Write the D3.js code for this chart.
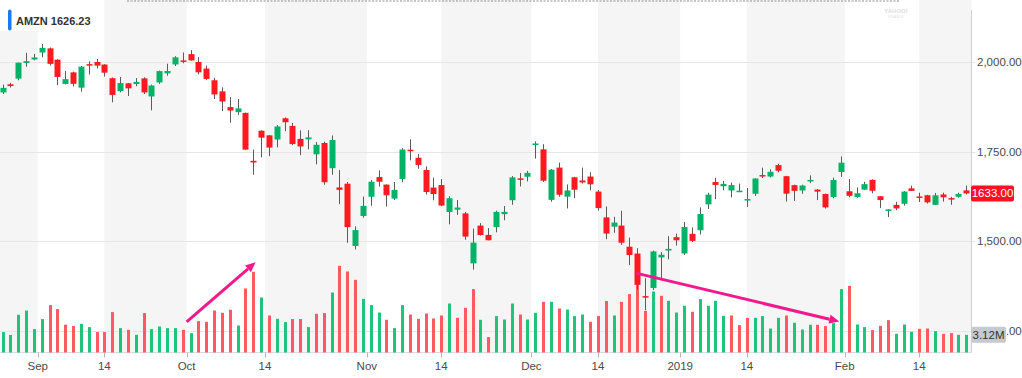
<!DOCTYPE html>
<html>
<head>
<meta charset="utf-8">
<script src="https://cdn.jsdelivr.net/npm/d3@7"></script>
<style>
  body { margin: 0; background: #fff; }
  svg { display: block; font-family: "Helvetica Neue", Helvetica, Arial, "Liberation Sans", sans-serif; }
</style>
</head>
<body>
<div class="stock-chart"></div>
<script>
// daily bars (trading days only)
var dates = [
  "2018-08-27","2018-08-28","2018-08-29","2018-08-30","2018-08-31",
  "2018-09-04","2018-09-05","2018-09-06","2018-09-07","2018-09-10","2018-09-11","2018-09-12","2018-09-13","2018-09-14",
  "2018-09-17","2018-09-18","2018-09-19","2018-09-20","2018-09-21","2018-09-24","2018-09-25","2018-09-26","2018-09-27","2018-09-28",
  "2018-10-01","2018-10-02","2018-10-03","2018-10-04","2018-10-05","2018-10-08","2018-10-09","2018-10-10","2018-10-11","2018-10-12",
  "2018-10-15","2018-10-16","2018-10-17","2018-10-18","2018-10-19","2018-10-22","2018-10-23","2018-10-24","2018-10-25","2018-10-26",
  "2018-10-29","2018-10-30","2018-10-31",
  "2018-11-01","2018-11-02","2018-11-05","2018-11-06","2018-11-07","2018-11-08","2018-11-09","2018-11-12","2018-11-13","2018-11-14",
  "2018-11-15","2018-11-16","2018-11-19","2018-11-20","2018-11-21","2018-11-23","2018-11-26","2018-11-27","2018-11-28","2018-11-29","2018-11-30",
  "2018-12-03","2018-12-04","2018-12-06","2018-12-07","2018-12-10","2018-12-11","2018-12-12","2018-12-13","2018-12-14",
  "2018-12-17","2018-12-18","2018-12-19","2018-12-20","2018-12-21","2018-12-24","2018-12-26","2018-12-27","2018-12-28","2018-12-31",
  "2019-01-02","2019-01-03","2019-01-04","2019-01-07","2019-01-08","2019-01-09","2019-01-10","2019-01-11","2019-01-14","2019-01-15",
  "2019-01-16","2019-01-17","2019-01-18","2019-01-22","2019-01-23","2019-01-24","2019-01-25","2019-01-28","2019-01-29","2019-01-30","2019-01-31",
  "2019-02-01","2019-02-04","2019-02-05","2019-02-06","2019-02-07","2019-02-08","2019-02-11","2019-02-12","2019-02-13","2019-02-14",
  "2019-02-15","2019-02-19","2019-02-20","2019-02-21","2019-02-22","2019-02-25"
];

var opens = [
  1915.00,1937.73,1953.45,1997.42,2007.00,
  2026.50,2038.11,2006.51,1938.71,1971.00,1928.27,1994.00,2000.00,1992.93,
  1954.73,1918.65,1940.50,1938.58,1954.22,1903.79,1942.90,1968.35,1993.24,2004.41,
  2021.99,1999.99,1981.70,1949.00,1917.99,1874.00,1859.99,1857.89,1724.00,1808.00,
  1795.24,1783.50,1842.79,1821.49,1785.16,1784.00,1742.24,1773.70,1703.34,1649.59,
  1660.00,1486.16,1569.99,
  1623.53,1678.59,1657.57,1618.35,1673.00,1755.00,1732.50,1698.24,1649.29,1656.32,
  1581.01,1587.50,1577.01,1437.50,1542.99,1517.00,1539.00,1575.00,1613.92,1674.99,1679.50,
  1769.46,1756.00,1614.87,1705.07,1623.84,1678.00,1669.00,1680.00,1638.00,
  1566.00,1540.00,1543.05,1484.00,1464.99,1346.00,1368.89,1454.20,1473.35,1510.80,
  1465.20,1520.01,1530.00,1602.31,1664.69,1652.98,1641.01,1640.55,1615.00,1632.00,
  1684.22,1680.00,1712.00,1681.00,1656.00,1641.07,1670.50,1643.59,1631.27,1623.00,1692.85,
  1638.88,1623.00,1643.34,1670.75,1625.00,1586.00,1600.98,1604.00,1647.00,1624.50,
  1627.86,1601.00,1630.00,1619.85,1623.50,1641.45
];

var highs = [
  1937.00,1941.78,1998.69,2025.57,2022.38,
  2050.50,2040.38,2007.50,1975.20,1973.04,1988.88,2002.00,2008.76,1993.65,
  1956.82,1958.20,1940.83,1955.00,1957.31,1936.88,1975.91,1995.25,2016.16,2026.52,
  2033.19,2013.39,1989.70,1956.00,1929.08,1902.00,1896.68,1858.56,1755.40,1808.95,
  1795.24,1823.88,1845.00,1830.15,1809.10,1809.50,1776.34,1777.71,1794.81,1698.46,
  1665.00,1540.99,1623.91,
  1670.45,1697.44,1658.09,1665.00,1759.23,1784.00,1743.49,1708.55,1677.06,1673.00,
  1624.82,1614.48,1581.19,1534.75,1550.00,1536.20,1584.81,1597.65,1681.45,1689.99,1696.00,
  1778.34,1770.34,1701.05,1718.93,1657.99,1679.47,1704.99,1692.12,1642.57,
  1596.44,1567.55,1584.53,1509.50,1480.00,1396.03,1473.16,1469.00,1513.47,1520.76,
  1553.36,1538.00,1594.00,1634.56,1676.61,1667.80,1663.25,1660.29,1648.20,1675.16,
  1705.00,1700.17,1716.20,1681.87,1657.43,1657.26,1683.48,1645.00,1632.38,1676.95,1736.41,
  1673.06,1649.63,1665.26,1672.26,1625.54,1588.59,1609.29,1639.40,1654.58,1634.94,
  1628.91,1634.00,1634.93,1623.56,1634.94,1654.60
];

var lows = [
  1911.00,1928.82,1948.94,1986.90,2004.74,
  2013.00,1989.89,1935.21,1937.35,1931.52,1917.00,1965.00,1982.03,1959.22,
  1887.41,1915.44,1904.90,1932.25,1910.50,1865.00,1938.85,1961.52,1988.58,1996.46,
  2003.60,1965.77,1949.81,1896.57,1862.83,1830.66,1852.32,1754.41,1685.10,1733.73,
  1737.00,1761.56,1807.00,1767.87,1740.00,1756.00,1714.00,1657.10,1685.10,1603.00,
  1495.00,1476.36,1565.09,
  1598.44,1651.83,1596.36,1614.55,1664.08,1725.11,1701.87,1630.01,1613.75,1597.07,
  1546.51,1573.12,1503.36,1420.00,1515.00,1501.81,1524.22,1558.01,1601.21,1652.33,1666.50,
  1730.00,1665.00,1609.85,1623.71,1590.87,1619.60,1660.27,1641.50,1585.00,
  1505.01,1523.01,1489.10,1432.69,1363.96,1307.00,1363.01,1390.31,1449.00,1487.00,
  1460.93,1497.11,1518.31,1589.19,1616.61,1641.40,1621.62,1636.22,1595.15,1626.01,
  1675.88,1677.50,1691.54,1610.20,1612.00,1631.78,1661.61,1614.09,1590.72,1619.41,1679.08,
  1622.01,1621.00,1642.50,1633.34,1592.29,1566.76,1586.00,1598.88,1640.00,1609.00,
  1604.50,1600.56,1610.12,1600.91,1621.17,1630.39
];

var closes = [
  1927.68,1932.82,1998.10,2002.38,2012.71,
  2039.51,1994.82,1958.31,1952.07,1939.01,1987.15,1990.00,1989.87,1970.19,
  1908.03,1941.05,1926.42,1944.30,1915.01,1934.36,1974.55,1974.85,2012.98,2003.00,
  2004.36,1971.31,1952.76,1909.42,1889.65,1864.42,1870.32,1755.25,1719.36,1788.61,
  1760.95,1819.96,1831.73,1770.72,1764.03,1789.30,1768.70,1664.20,1782.17,1642.81,
  1538.88,1530.42,1598.01,
  1665.53,1665.53,1627.80,1642.81,1755.49,1754.91,1712.43,1636.85,1631.17,1599.01,
  1619.44,1593.41,1512.29,1495.46,1516.73,1502.06,1581.33,1581.42,1677.75,1673.57,1690.17,
  1772.36,1668.40,1699.19,1629.13,1641.03,1643.24,1663.54,1658.38,1591.91,
  1520.91,1551.48,1495.08,1460.83,1377.45,1343.96,1470.90,1461.64,1478.02,1501.97,
  1539.13,1500.28,1575.39,1629.51,1656.58,1659.42,1656.22,1640.56,1617.21,1674.56,
  1683.78,1693.22,1696.20,1632.17,1640.02,1654.93,1670.57,1637.89,1593.88,1670.43,1718.73,
  1626.23,1633.31,1658.81,1640.26,1614.37,1588.22,1591.00,1638.01,1640.00,1622.65,
  1607.95,1627.58,1622.10,1619.44,1631.56,1633.00
];

// volume in millions of shares
var volumes = [
  3.6,3.1,6.65,7.4,4.13,
  5.9,8.36,7.65,4.9,4.66,5.06,4.48,3.6,3.6,
  7.13,4.3,4.0,3.12,6.95,4.13,4.59,4.3,4.3,4.0,
  3.42,5.54,5.41,7.4,7.0,7.53,4.76,11.29,14.23,9.7,
  6.53,5.94,5.36,5.9,5.9,4.48,6.83,6.95,10.58,15.29,
  14.29,12.82,9.47,
  8.36,7.05,5.77,4.3,8.36,6.7,5.94,6.88,6.0,6.53,
  8.64,6.12,7.88,11.18,5.77,2.72,6.42,5.82,8.64,6.7,5.82,
  7.0,8.94,8.94,7.76,7.58,6.42,6.7,5.41,6.42,
  9.07,6.53,8.94,10.3,14.18,7.35,10.76,10.0,9.12,7.05,
  8.24,7.18,9.42,8.24,9.12,6.47,6.53,4.83,6.12,6.12,
  6.42,4.23,6.12,6.53,5.24,4.06,4.89,4.89,4.66,5.19,11.18,
  11.76,4.94,4.48,3.95,4.71,5.71,3.3,4.94,3.65,4.18,
  4.23,3.77,3.3,3.42,3.12,3.12
];

var prevClose = 1905.39; // close before the first bar, colours the first volume bar
var priceTicks = [2000, 1750, 1500, 1250];
var tickDates = ["2018-09-01","2018-09-14","2018-10-01","2018-10-14","2018-11-01","2018-11-14",
                 "2018-12-01","2018-12-14","2019-01-01","2019-01-14","2019-02-01","2019-02-14"];
var tickLabels = ["Sep","14","Oct","14","Nov","14","Dec","14","2019","14","Feb","14"];
var symbol = "AMZN";
var quote = "1626.23";

// hand drawn arrows: [bar index, volume in M]
var arrowNotes = [
  {from: [23.5, 5.4], to: [32.3, 15.9]},
  {from: [80.85, 14.0], to: [106.8, 5.47]}
];

/**
 * Candlestick + volume chart
 */
function StockChart(){
    var self = this;
    self.init();
};

StockChart.prototype.init = function(){
    var self = this;
    self.width = 1022;
    self.height = 378;
    self.plotRight = 971.5;
    self.baseY = 352.5;

    self.svg = d3.select(".stock-chart").append("svg")
        .attr("width", self.width)
        .attr("height", self.height);

    // one slot per trading day
    self.x = d3.scaleLinear()
      .domain([0, dates.length - 1])
      .range([2.5, 966.2]);

    self.y = d3.scaleLinear()
      .domain([1250, 2000])
      .range([330.5, 62]);

    self.yVol = d3.scaleLinear()
      .domain([0, 16])
      .range([self.baseY, self.baseY - 16 * 5.67]);

    self.colors = {up: "#00b367", down: "#ff1a1f", volUp: "#1ec47c", volDown: "#ff5a64", wick: "#5b5b5b"};

    // the volume flag hides the left part of the lowest price label
    self.svg.append("defs").append("clipPath").attr("id", "behind-flag")
      .append("rect").attr("x", 1007).attr("y", 0).attr("width", 20).attr("height", self.height);
};

// x position of a calendar date (month starts sit between bars)
StockChart.prototype.datePos = function(d, label){
    var self = this;
    var idx = dates.findIndex(function(t){ return t >= d; });
    var onBar = dates[idx] === d && /^\d{1,2}$/.test(label);
    return self.x(onBar ? idx : idx - 0.5);
};

StockChart.prototype.drawBackground = function(){
    var self = this;
    var svg = self.svg;

    var tickX = tickDates.map(function(d, i){ return self.datePos(d, tickLabels[i]); });
    var edges = [0].concat(tickX).concat([self.plotRight]);

    // alternating bands between axis ticks
    var bands = [];
    for (var i = 0; i < edges.length - 1; i++) {
        if (i % 2 === 0) bands.push([edges[i], edges[i + 1]]);
    }
    svg.append("g").selectAll("rect")
      .data(bands)
      .enter().append("rect")
      .attr("x", function(d){ return d[0]; })
      .attr("y", 0)
      .attr("width", function(d){ return d[1] - d[0]; })
      .attr("height", self.baseY)
      .attr("fill", "#f5f5f5");

    // horizontal grid
    svg.append("g").selectAll("line")
      .data(priceTicks)
      .enter().append("line")
      .attr("x1", 0)
      .attr("x2", self.plotRight + 4)
      .attr("y1", function(d){ return Math.round(self.y(d)) + 0.5; })
      .attr("y2", function(d){ return Math.round(self.y(d)) + 0.5; })
      .attr("stroke", "#e6e6e6");

    // bottom axis
    svg.append("line")
      .attr("x1", 0).attr("x2", self.plotRight)
      .attr("y1", self.baseY).attr("y2", self.baseY)
      .attr("stroke", "#dcdcdc");

    var xt = svg.append("g");
    xt.selectAll("line")
      .data(tickX)
      .enter().append("line")
      .attr("x1", function(d){ return Math.round(d) + 0.5; })
      .attr("x2", function(d){ return Math.round(d) + 0.5; })
      .attr("y1", self.baseY)
      .attr("y2", self.baseY + 5)
      .attr("stroke", "#b5b5b5");
    xt.selectAll("text")
      .data(tickX)
      .enter().append("text")
      .attr("x", function(d){ return d; })
      .attr("y", 370)
      .attr("text-anchor", "middle")
      .attr("font-size", "11.5px")
      .attr("fill", "#4a4a4a")
      .text(function(d, i){ return tickLabels[i]; });

    // right price axis
    svg.append("line")
      .attr("x1", self.plotRight).attr("x2", self.plotRight)
      .attr("y1", 10).attr("y2", self.baseY)
      .attr("stroke", "#cfcfcf");
    var lowest = d3.min(priceTicks);
    svg.append("g").selectAll("text")
      .data(priceTicks)
      .enter().append("text")
      .attr("x", 977)
      .attr("y", function(d){ return self.y(d) + 4; })
      .attr("font-size", "11.5px")
      .attr("fill", "#4a4a4a")
      .attr("clip-path", function(d){ return d === lowest ? "url(#behind-flag)" : null; })
      .text(function(d){ return d3.format(",.2f")(d); });

    // dotted line along the top
    svg.append("line")
      .attr("x1", 127).attr("x2", 899)
      .attr("y1", 1).attr("y2", 1)
      .attr("stroke", "#8a8a8a")
      .attr("stroke-dasharray", "2,1.5");

    // faint watermark
    svg.append("text").attr("x", 896).attr("y", 13)
      .attr("text-anchor", "middle").attr("font-size", "6px").attr("font-weight", "bold")
      .attr("fill", "#dedede").text("YAHOO!");
    svg.append("text").attr("x", 896).attr("y", 18)
      .attr("text-anchor", "middle").attr("font-size", "3.5px")
      .attr("fill", "#e2e2e2").text("FINANCE");
};

StockChart.prototype.drawBars = function(){
    var self = this;
    var svg = self.svg;
    var c = self.colors;

    var bars = dates.map(function(d, i){
        return {i: i, o: opens[i], h: highs[i], l: lows[i], c: closes[i], v: volumes[i],
                prev: i === 0 ? prevClose : closes[i - 1]};
    });

    // volume, coloured by close vs previous close
    svg.append("g").selectAll("rect")
      .data(bars)
      .enter().append("rect")
      .attr("x", function(d){ return Math.round(self.x(d.i)) - 1; })
      .attr("y", function(d){ return self.yVol(d.v); })
      .attr("width", 3)
      .attr("height", function(d){ return self.baseY - self.yVol(d.v); })
      .attr("fill", function(d){ return d.c >= d.prev ? c.volUp : c.volDown; });

    var g = svg.append("g");
    g.selectAll("line")
      .data(bars)
      .enter().append("line")
      .attr("x1", function(d){ return Math.round(self.x(d.i)) + 0.5; })
      .attr("x2", function(d){ return Math.round(self.x(d.i)) + 0.5; })
      .attr("y1", function(d){ return self.y(d.h); })
      .attr("y2", function(d){ return self.y(d.l); })
      .attr("stroke", c.wick)
      .attr("stroke-width", 1);

    g.selectAll("rect")
      .data(bars)
      .enter().append("rect")
      .attr("x", function(d){ return Math.round(self.x(d.i)) - 2.5; })
      .attr("y", function(d){ return self.y(Math.max(d.o, d.c)); })
      .attr("width", 6)
      .attr("height", function(d){ return Math.max(1.5, Math.abs(self.y(d.o) - self.y(d.c))); })
      .attr("fill", function(d){ return d.c >= d.o ? c.up : c.down; });
};

StockChart.prototype.drawLabels = function(){
    var self = this;
    var svg = self.svg;

    // header chip
    svg.append("rect").attr("x", 0).attr("y", 0).attr("width", 95).attr("height", 31).attr("fill", "#fff");
    svg.append("rect").attr("x", 8).attr("y", 9.5).attr("width", 3.5).attr("height", 21)
      .attr("rx", 1.7).attr("fill", "#1a7cf5");
    svg.append("text").attr("x", 16).attr("y", 24.5)
      .attr("font-size", "11px").attr("font-weight", "bold").attr("fill", "#333")
      .text(symbol + " " + quote);

    // last price flag
    var last = closes[closes.length - 1];
    var py = self.y(last);
    svg.append("rect").attr("x", 971).attr("y", py - 8).attr("width", 43).attr("height", 16)
      .attr("rx", 2).attr("fill", "#ff1024");
    svg.append("text").attr("x", 992.5).attr("y", py + 4)
      .attr("text-anchor", "middle").attr("font-size", "11.5px").attr("fill", "#fff")
      .text(d3.format(".2f")(last));

    // last volume flag
    var lastV = volumes[volumes.length - 1];
    var vy = self.yVol(lastV);
    svg.append("rect").attr("x", 971).attr("y", vy - 8).attr("width", 35).attr("height", 16)
      .attr("rx", 2).attr("fill", "#c6c9ce");
    svg.append("text").attr("x", 988.5).attr("y", vy + 4)
      .attr("text-anchor", "middle").attr("font-size", "11.5px").attr("fill", "#333")
      .text(d3.format(".2f")(lastV) + "M");
};

StockChart.prototype.drawArrows = function(){
    var self = this;
    var col = "#f01a8c";
    var g = self.svg.append("g");

    arrowNotes.forEach(function(a){
        var x1 = self.x(a.from[0]), y1 = self.yVol(a.from[1]);
        var x2 = self.x(a.to[0]), y2 = self.yVol(a.to[1]);
        var ang = Math.atan2(y2 - y1, x2 - x1);
        var len = 10, half = 4.5;
        var bx = x2 - len * Math.cos(ang), by = y2 - len * Math.sin(ang);

        g.append("line")
          .attr("x1", x1).attr("y1", y1)
          .attr("x2", bx).attr("y2", by)
          .attr("stroke", col)
          .attr("stroke-width", 3);

        var pts = [
          [x2, y2],
          [bx + half * Math.sin(ang), by - half * Math.cos(ang)],
          [bx - half * Math.sin(ang), by + half * Math.cos(ang)]
        ];
        g.append("polygon")
          .attr("points", pts.map(function(p){ return p.join(","); }).join(" "))
          .attr("fill", col);
    });
};

var chart = new StockChart();
chart.drawBackground();
chart.drawBars();
chart.drawArrows();
chart.drawLabels();
</script>
</body>
</html>
